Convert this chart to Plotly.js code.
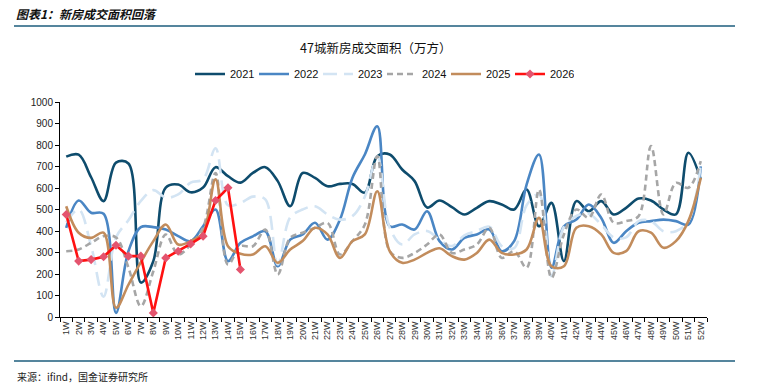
<!DOCTYPE html>
<html><head><meta charset="utf-8">
<script src="https://cdn.plot.ly/plotly-3.0.1.min.js"></script>
<style>html,body{margin:0;padding:0;background:#fff;}#chart{width:757px;height:389px;}</style>
</head><body><div id="chart"></div>
<script>
const weeks = Array.from({length:52},(_,i)=>(i+1)+'W');
const y2021 = [746,755,650,539,718,714,160,260,602,616,580,602,697,655,625,670,697,632,515,670,647,608,619,619,578,748,756,686,632,509,542,511,477,508,539,523,500,593,422,531,260,539,492,539,477,508,551,542,500,477,764,640];
const y2022 = [415,542,485,480,19,306,418,418,407,376,353,422,500,260,345,375,399,236,360,384,438,360,453,647,756,887,422,430,407,492,353,314,368,384,407,306,353,616,756,229,422,453,523,461,345,399,438,446,453,446,430,701];
const y2023 = [440,500,330,95,370,450,540,590,555,570,625,640,785,520,530,560,547,244,463,500,515,477,453,469,560,748,415,337,384,400,360,330,380,400,420,330,320,520,570,190,420,470,480,430,370,370,446,446,399,399,446,709];
const y2024 = [306,314,345,376,370,230,50,213,384,291,337,415,670,244,329,329,407,198,368,392,415,438,291,353,430,748,306,275,298,337,384,298,314,337,415,275,306,229,593,182,384,500,461,570,438,446,469,795,477,624,601,725];
const y2025 = [515,392,368,392,43,150,255,353,430,337,353,392,640,329,294,291,329,252,314,353,415,384,275,353,384,585,306,252,267,298,320,283,267,298,360,298,291,314,461,236,236,415,422,384,298,306,399,392,322,353,446,647];
const y2026 = [477,260,267,280,334,283,283,19,275,306,340,376,542,601,221];
const seriesNames = ['2021','2022','2023','2024','2025','2026'];

const W=757,H=389,L=60,R=707,T=102,B=317;
const px=x=>(x-L)/(R-L), py=y=>(B-y)/(B-T);

const sp = {shape:'spline', smoothing:1};
const traces = [
 {x:weeks, y:y2021, name:seriesNames[0], mode:'lines', line:Object.assign({color:'#0E4C6D', width:2.6},sp)},
 {x:weeks, y:y2022, name:seriesNames[1], mode:'lines', line:Object.assign({color:'#4A86C4', width:2.6},sp)},
 {x:weeks, y:y2023, name:seriesNames[2], mode:'lines', line:Object.assign({color:'#D3E4F3', width:2.6, dash:'14px,7px'},sp)},
 {x:weeks, y:y2024, name:seriesNames[3], mode:'lines', line:Object.assign({color:'#A6A6A6', width:2.6, dash:'6px,4px'},sp)},
 {x:weeks, y:y2025, name:seriesNames[4], mode:'lines', line:Object.assign({color:'#C28C5C', width:2.6},sp)},
 {x:weeks.slice(0,y2026.length), y:y2026, name:seriesNames[5], mode:'lines+markers', line:{color:'#FF1111', width:2.6},
  marker:{symbol:'diamond', size:7, color:'#E4546E'}}
];

const layout = {
  width:W, height:H, paper_bgcolor:'#fff', plot_bgcolor:'#fff',
  margin:{l:L, r:W-R, t:T, b:H-B, pad:0},
  showlegend:true,
  font:{family:'Liberation Sans, Arial, sans-serif', color:'#222', size:10},
  legend:{orientation:'h', x:px(190), y:py(74), xanchor:'left', yanchor:'middle',
          font:{size:11, color:'#111'}, tracegroupgap:0, itemwidth:30, entrywidth:19, entrywidthmode:'pixels', bgcolor:'rgba(0,0,0,0)'},
  xaxis:{type:'category', tickangle:-90, tickfont:{size:9, color:'#333'}, showline:true, linecolor:'#000', linewidth:1,
         ticks:'outside', ticklen:4, tickcolor:'#000', tickson:'boundaries', showgrid:false, zeroline:false, range:[-0.5,51.5]},
  yaxis:{range:[0,1000], dtick:100, tickfont:{size:10, color:'#222'}, showline:true, linecolor:'#000', linewidth:1,
         ticks:'outside', ticklen:4, tickcolor:'#000', showgrid:false, zeroline:false},
  shapes:[
    {type:'line', xref:'paper', yref:'paper', x0:px(14), x1:px(735), y0:py(26), y1:py(26), line:{color:'#1D5D7C', width:1.5}},
    {type:'line', xref:'paper', yref:'paper', x0:px(14), x1:px(735), y0:py(361), y1:py(361), line:{color:'#1D5D7C', width:1.5}}
  ],
  annotations:[
    {xref:'paper', yref:'paper', x:px(14), y:py(13), xanchor:'left', yanchor:'middle', showarrow:false,
     text:'<b><i>图表1：新房成交面积回落</i></b>', font:{family:'Noto Sans CJK SC', size:12, color:'#111'}},
    {xref:'paper', yref:'paper', x:px(375), y:py(47), xanchor:'center', yanchor:'middle', showarrow:false,
     text:'47城新房成交面积（万方）', font:{family:'Noto Sans CJK SC', size:12.5, color:'#111'}},
    {xref:'paper', yref:'paper', x:px(15), y:py(376), xanchor:'left', yanchor:'middle', showarrow:false,
     text:'来源：ifind，国金证券研究所', font:{family:'Noto Sans CJK SC', size:10, color:'#222'}}
  ]
};
Plotly.newPlot('chart', traces, layout, {displayModeBar:false, staticPlot:true});
</script></body></html>
